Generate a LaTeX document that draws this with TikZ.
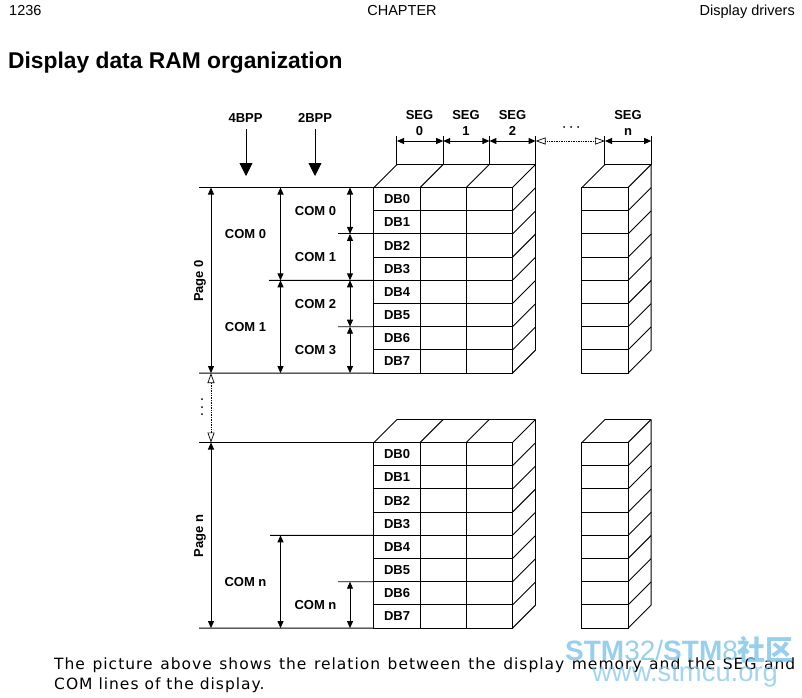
\documentclass[tikz,border=0pt]{standalone}
\usepackage{fontspec}
\setmainfont{Liberation Sans}
\newfontfamily\bodyfont[LetterSpace=6.5]{DejaVu Sans}
\newfontfamily\cjkfont{Noto Sans CJK SC}
\usetikzlibrary{arrows.meta,positioning}
\definecolor{MarkBlue}{RGB}{125, 195, 232}

\begin{document}
\begin{tikzpicture}[
    x=1pt, y=-1pt,
    font=\fontsize{13}{16}\selectfont\bfseries,
    cell/.style={draw, line width=0.9pt, rectangle, outer sep=0pt, inner sep=0pt, minimum width=46.2pt, minimum height=23.2pt},
    lbl/.style={align=center, inner sep=0pt},
    line/.style={line width=0.9pt},
    dim/.style={{Triangle[length=7pt,width=6pt]}-{Triangle[length=7pt,width=6pt]}, line width=0.9pt},
    gap/.style={{Triangle[open,length=10pt,width=7pt]}-{Triangle[open,length=10pt,width=7pt]}, densely dotted, line width=0.7pt},
    bigarrow/.style={-{Triangle[length=13pt,width=13pt]}, line width=0.9pt},
    dotmark/.style={circle, fill, inner sep=0pt, minimum size=2pt}
  ]
    \useasboundingbox (0,0) rectangle (802,697);

    % page header and title
    \node[anchor=base west, inner sep=0pt, font=\fontsize{14.5}{16}\selectfont] (pagenum) at (9,15) {1236};
    \node[anchor=base, inner sep=0pt, font=\fontsize{14.5}{16}\selectfont] (chapter) at (402,15) {CHAPTER};
    \node[anchor=base east, inner sep=0pt, font=\fontsize{14.5}{16}\selectfont] (section) at (795,15) {Display drivers};
    \node[anchor=base west, inner sep=0pt, font=\fontsize{22.8}{26}\selectfont\bfseries] (title) at (8,68) {Display data RAM organization};

    % memory cells of both pages
    \foreach \pg/\ytop in {0/187.5,n/442.5} {
      \foreach \r in {0,...,7} {
        \node[cell] (db\pg\r) at (397,\ytop+11.6+\r*23.2) {DB\r};
        \node[cell, right=0pt of db\pg\r] (sa\pg\r) {};
        \node[cell, right=0pt of sa\pg\r] (sb\pg\r) {};
        \node[cell] (sn\pg\r) at (605,\ytop+11.6+\r*23.2) {};
        \draw[line] (sb\pg\r.north east) -- ++(23,-23);
        \draw[line] (sn\pg\r.north east) -- ++(23,-23);
      }
      \draw[line] (sb\pg7.south east) -- ++(23,-23) -- ++(0,-185.6);
      \draw[line] (sn\pg7.south east) -- ++(23,-23) -- ++(0,-185.6);
      \draw[line] (db\pg0.north west) -- ++(23,-23) coordinate (ba\pg) -- ++(46.2,0) coordinate (bb\pg) -- ++(46.2,0) coordinate (bc\pg) -- ++(46.2,0) coordinate (bd\pg);
      \draw[line] (sa\pg0.north west) -- (bb\pg);
      \draw[line] (sb\pg0.north west) -- (bc\pg);
      \draw[line] (sn\pg0.north west) -- ++(23,-23) coordinate (be\pg) -- ++(46.2,0) coordinate (bf\pg);
    }

    % SEG scale
    \foreach \from/\name in {ba0/a,bb0/b,bc0/c,bd0/d,be0/e,bf0/f} {
      \draw[line] (\from) -- ++(0,-29) coordinate (tick\name);
    }
    \foreach \name/\xx in {a/397,b/443.2,c/489.4,d/535.6,e/605,f/651.2} {
      \coordinate (seg\name) at (\xx,141);
    }
    \draw[dim] (sega) -- (segb);
    \draw[dim] (segb) -- (segc);
    \draw[dim] (segc) -- (segd);
    \draw[gap] (segd) -- (sege);
    \draw[dim] (sege) -- (segf);
    \node[lbl] (seg0) at (419.5,123) {SEG\\0};
    \node[lbl] (seg1) at (466,123) {SEG\\1};
    \node[lbl] (seg2) at (512.5,123) {SEG\\2};
    \node[lbl] (segn) at (628,123) {SEG\\n};
    \foreach \xx in {564,571,578} {
      \node[dotmark] at (\xx,127) {};
    }

    % horizontal guides
    \foreach \name/\xx/\yy in {gta/199/187.5,gma/199/373.1,gtb/199/442.5,gmb/199/628.1,gc/269/280.3,gd/270/535.3,ga/338/233.9,gb/338/326.7,ge/338/581.7} {
      \coordinate (\name) at (\xx,\yy);
    }
    \draw[line] (gta) -- (db00.north west);
    \draw[line] (gma) -- (db07.south west);
    \draw[line] (gtb) -- (dbn0.north west);
    \draw[line] (gmb) -- (dbn7.south west);
    \draw[line] (gc) -- (db03.south west);
    \draw[line] (gd) -- (dbn3.south west);
    \draw[line] (ga) -- (db01.south west);
    \draw[line] (gb) -- (db05.south west);
    \draw[line] (ge) -- (dbn5.south west);

    % 4BPP and 2BPP columns
    \node[lbl] (bpp4) at (245.5,118) {4BPP};
    \node[lbl] (bpp2) at (315,118) {2BPP};
    \coordinate (bpp4a) at (246,129);
    \coordinate (bpp4b) at (246,176);
    \coordinate (bpp2a) at (315,129);
    \coordinate (bpp2b) at (315,176);
    \draw[bigarrow] (bpp4a) -- (bpp4b);
    \draw[bigarrow] (bpp2a) -- (bpp2b);

    % vertical extents
    \draw[dim] (211,0 |- gta) coordinate (pa) -- (211,0 |- gma) coordinate (pb);
    \draw[gap] (pb) -- (211,0 |- gtb) coordinate (pc);
    \draw[dim] (pc) -- (211,0 |- gmb) coordinate (pd);
    \draw[dim] (280.5,0 |- gta) coordinate (ca) -- (280.5,0 |- gc) coordinate (cb);
    \draw[dim] (cb) -- (280.5,0 |- gma) coordinate (cc);
    \draw[dim] (280.5,0 |- gd) coordinate (cd) -- (280.5,0 |- gmb) coordinate (ce);
    \draw[dim] (350,0 |- gta) coordinate (da) -- (350,0 |- ga) coordinate (db);
    \draw[dim] (db) -- (350,0 |- gc) coordinate (dc);
    \draw[dim] (dc) -- (350,0 |- gb) coordinate (dd);
    \draw[dim] (dd) -- (350,0 |- gma) coordinate (de);
    \draw[dim] (350,0 |- ge) coordinate (df) -- (350,0 |- gmb) coordinate (dg);
    \foreach \yy in {399,407,414} {
      \node[dotmark] at (202,\yy) {};
    }

    % COM and page labels
    \node[lbl] (comA) at (245.5,234) {COM 0};
    \node[lbl] (comB) at (245.5,327) {COM 1};
    \node[lbl] (comC) at (245.5,582.5) {COM n};
    \node[lbl] (comD) at (315.5,211) {COM 0};
    \node[lbl] (comE) at (315.5,257) {COM 1};
    \node[lbl] (comF) at (315.5,304) {COM 2};
    \node[lbl] (comG) at (315.5,350) {COM 3};
    \node[lbl] (comH) at (315.5,605.5) {COM n};
    \node[lbl, rotate=90] (page0) at (200,281) {Page 0};
    \node[lbl, rotate=90] (pagen) at (200,536) {Page n};

    % caption and watermark
    \node[anchor=north west, inner sep=0pt, text width=741pt, align=justify, font=\fontsize{15.5}{20}\selectfont\bodyfont] (caption) at (54,657.5) {The picture above shows the relation between the display memory and the SEG and\linebreak COM lines of the display.};
    \node[anchor=base west, inner sep=0pt, text=MarkBlue, text opacity=0.8, font=\fontsize{28}{34}\selectfont] (mark) at (565,660) {\textbf{STM}32/\textbf{STM}8{\cjkfont\bfseries 社区}};
    \node[anchor=base west, inner sep=0pt, text=MarkBlue, text opacity=0.7, font=\fontsize{27.4}{30}\selectfont\mdseries] (site) at (592,681) {www.stmcu.org};
\end{tikzpicture}
\end{document}
